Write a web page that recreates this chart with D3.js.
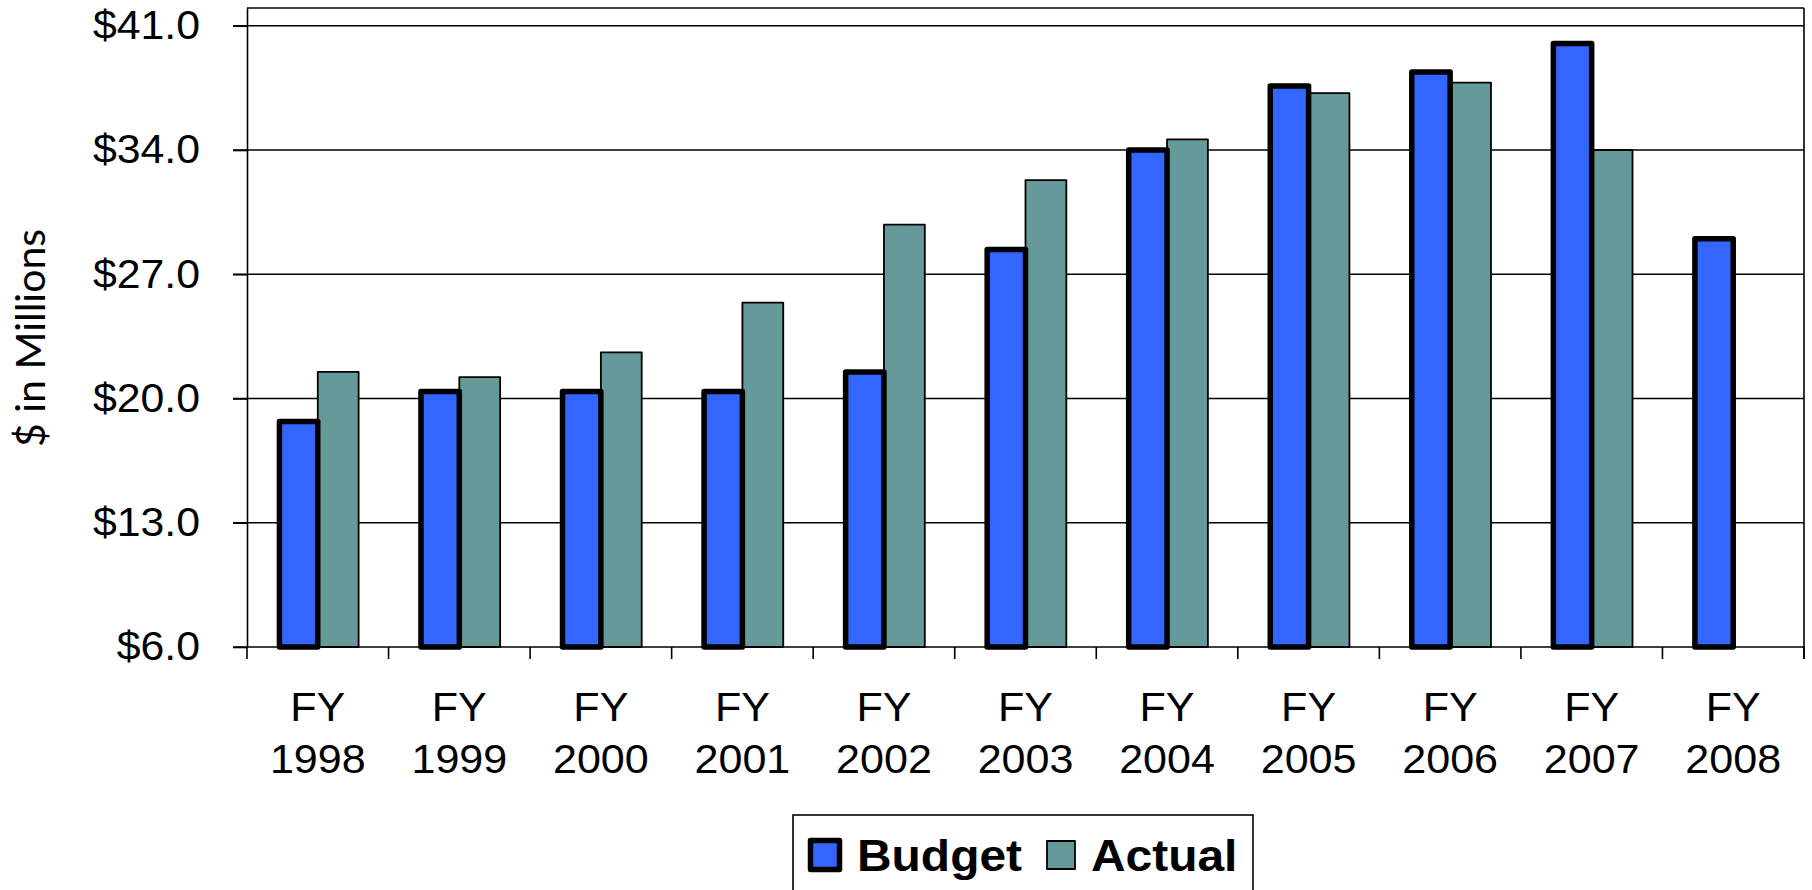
<!DOCTYPE html>
<html><head><meta charset="utf-8">
<script src="https://cdn.jsdelivr.net/npm/d3@7"></script>
<style>body{margin:0;background:#fff;} svg{display:block;}</style>
</head><body>
<svg id="chart" width="1812" height="890"></svg>
<script>
// ---- data ----
const categories = ["1998","1999","2000","2001","2002","2003","2004","2005","2006","2007","2008"];
const budget = [18.7, 20.4, 20.4, 20.4, 21.5, 28.4, 34.0, 37.6, 38.4, 40.0, 29.0];
const actual = [21.5, 21.2, 22.6, 25.4, 29.8, 32.3, 34.6, 37.2, 37.8, 34.0, null];
const seriesNames = ["Budget", "Actual"];
const seriesColors = ["#3366FF", "#669999"];
const yTicks = [6, 13, 20, 27, 34, 41];
const yTitle = "$ in Millions";
const xPrefix = "FY";

// ---- layout ----
const svg = d3.select("#chart");
const L = 247, R = 1804, T = 8, B = 647;
const font = "'Liberation Sans', Arial, sans-serif";

const x0 = d3.scaleBand().domain(categories).range([L, R]).padding(0);
const bw = x0.bandwidth();
const gw = bw * 0.577;
const x1 = d3.scaleBand().domain(seriesNames).range([(bw - gw) / 2, (bw + gw) / 2]).padding(0);
const y = d3.scaleLinear().domain([6, 42]).range([B, T]);
const color = d3.scaleOrdinal().domain(seriesNames).range(seriesColors);

// gridlines
svg.append("g").selectAll("line").data(yTicks).join("line")
  .attr("x1", L - 14).attr("x2", R)
  .attr("y1", d => y(d)).attr("y2", d => y(d))
  .attr("stroke", "#000").attr("stroke-width", 1.6);

// top border & right border
svg.append("line").attr("x1", L).attr("x2", R).attr("y1", y(42)).attr("y2", y(42))
  .attr("stroke", "#000").attr("stroke-width", 1.6);
svg.append("line").attr("x1", R).attr("x2", R).attr("y1", y(42)).attr("y2", B + 12)
  .attr("stroke", "#000").attr("stroke-width", 1.6);

// y axis
const sxY = 1.07;
const yAxis = svg.append("g").attr("transform", `translate(${L},0)`)
  .call(d3.axisLeft(y).tickValues(yTicks).tickSizeInner(14).tickSizeOuter(0).tickPadding(33)
    .tickFormat(d => "$" + d.toFixed(1)));
yAxis.select(".domain").attr("stroke", "#000").attr("stroke-width", 1.6);
yAxis.selectAll(".tick line").attr("stroke", "#000").attr("stroke-width", 1.6);
yAxis.selectAll("text").attr("font-family", font).attr("font-size", 40).attr("fill", "#000")
  .attr("x", -47 / sxY).attr("transform", `scale(${sxY},1)`);

// x boundary ticks
const bounds = categories.map(c => x0(c)).concat([R]);
svg.append("g").selectAll("line").data(bounds).join("line")
  .attr("x1", d => d).attr("x2", d => d).attr("y1", B).attr("y2", B + 12)
  .attr("stroke", "#000").attr("stroke-width", 1.6);

// x labels
const sxX = 1.05;
const xl = svg.append("g").selectAll("text").data(categories).join("text")
  .attr("transform", d => `translate(${x0(d) + bw / 2},0) scale(${sxX},1)`)
  .attr("text-anchor", "middle").attr("font-family", font).attr("font-size", 41).attr("fill", "#000");
xl.append("tspan").attr("x", 0).attr("y", 721).text(xPrefix);
xl.append("tspan").attr("x", 0).attr("y", 773).text(d => d);

// bars
const rows = categories.map((c, i) => ({c, vals: [
  {s: "Budget", v: budget[i]}, {s: "Actual", v: actual[i]}]}));
const grp = svg.append("g").selectAll("g").data(rows).join("g")
  .attr("transform", d => `translate(${x0(d.c)},0)`);
// actual first, then budget on top
grp.selectAll("rect").data(d => d.vals.filter(v => v.v != null).slice().reverse()).join("rect")
  .attr("x", d => x1(d.s) + (d.s === "Budget" ? 2.5 : 0))
  .attr("width", d => x1.bandwidth() - (d.s === "Budget" ? 2.5 : 0))
  .attr("y", d => y(d.v))
  .attr("height", d => y(6) - y(d.v))
  .attr("fill", d => color(d.s))
  .attr("stroke", "#000")
  .attr("stroke-width", d => d.s === "Budget" ? 5.5 : 1.8)
  .attr("stroke-linejoin", "round");

// y title
svg.append("text").attr("transform", "translate(45,338) rotate(-90)")
  .attr("text-anchor", "middle").attr("font-family", "Lato, 'Open Sans', sans-serif")
  .attr("font-size", 41).attr("fill", "#000").text(yTitle);

// legend
svg.append("rect").attr("x", 793).attr("y", 815).attr("width", 460).attr("height", 100)
  .attr("fill", "#fff").attr("stroke", "#000").attr("stroke-width", 1.6);
const legX = [810.5, 1047];
const txtX = [857, 1091];
const sxL = 1.065;
const lg = svg.append("g").selectAll("g").data(seriesNames).join("g");
lg.append("rect")
  .attr("x", (d, i) => legX[i]).attr("y", (d, i) => i === 0 ? 840.5 : 841)
  .attr("width", (d, i) => i === 0 ? 29 : 28).attr("height", (d, i) => i === 0 ? 29 : 28)
  .attr("fill", d => color(d)).attr("stroke", "#000")
  .attr("stroke-width", (d, i) => i === 0 ? 5.5 : 1.8).attr("stroke-linejoin", "round");
lg.append("text").attr("transform", (d, i) => `translate(${txtX[i]},871) scale(${sxL},1)`)
  .attr("font-family", font).attr("font-weight", "bold").attr("font-size", 45).attr("fill", "#000")
  .text(d => d);
</script>
</body></html>
